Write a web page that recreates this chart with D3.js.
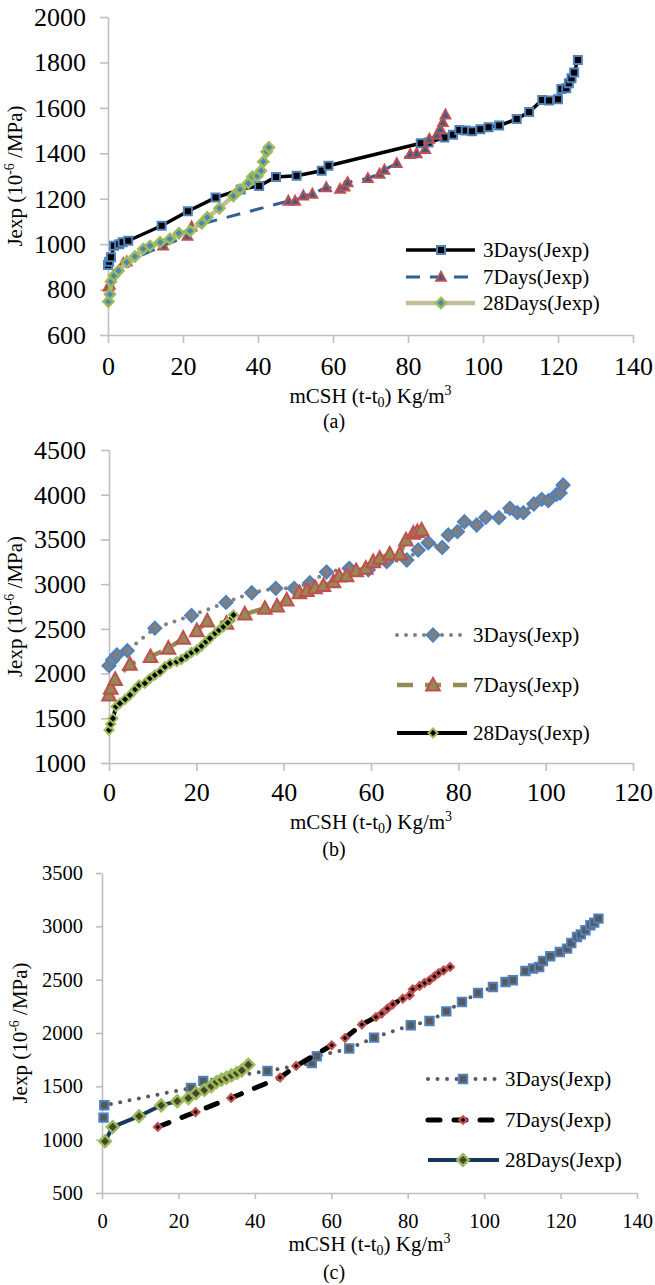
<!DOCTYPE html>
<html>
<head>
<meta charset="utf-8">
<script src="https://cdn.jsdelivr.net/npm/d3@7"></script>
<style>
  html, body { margin: 0; padding: 0; background: #fff; }
  svg { display: block; }
  text { font-family: "Liberation Serif", "Times New Roman", serif; fill: #000; }
</style>
</head>
<body>
<svg id="chart" width="655" height="1285"></svg>
<script>
// ---- series labels ----
const seriesNames = ["3Days(Jexp)", "7Days(Jexp)", "28Days(Jexp)"];
const captions = ["(a)", "(b)", "(c)"];

// ---- panel (a) ----
const aXTicks = [0, 20, 40, 60, 80, 100, 120, 140];
const aYTicks = [600, 800, 1000, 1200, 1400, 1600, 1800, 2000];
const a3x = [0, 0.3, 0.8, 1.6, 3.0, 3.9, 5.4, 14.3, 21.3, 28.7, 35.4, 40.3, 44.8, 50.3, 57.0, 58.8, 83.4, 85.5, 89.7, 92.0, 93.7, 95.4, 97.1, 99.3, 101.5, 104.3, 109.0, 112.3, 115.8, 117.6, 120.0, 120.9, 122.2, 122.9, 123.6, 124.3, 125.3];
const a3y = [908, 923, 942, 993, 1000, 1008, 1015, 1081, 1145, 1205, 1241, 1256, 1296, 1301, 1323, 1345, 1444, 1447, 1470, 1482, 1503, 1500, 1497, 1506, 1515, 1522, 1551, 1582, 1635, 1632, 1638, 1683, 1686, 1708, 1730, 1756, 1811];
const a7x = [0.1, 0.5, 4.1, 5.0, 14.7, 21.2, 22.3, 48.1, 49.9, 52.1, 54.5, 58.2, 61.9, 63.1, 63.9, 69.3, 72.4, 73.7, 77.0, 80.6, 82.3, 84.6, 85.7, 87.7, 88.6, 89.3, 90.0];
const a7y = [813, 820, 916, 923, 993, 1036, 1077, 1190, 1190, 1213, 1221, 1250, 1243, 1253, 1272, 1290, 1309, 1327, 1356, 1396, 1400, 1418, 1463, 1481, 1507, 1537, 1570];
const a28x = [0.1, 0.5, 0.8, 1.6, 2.8, 5.0, 7.2, 9.4, 11.2, 13.9, 16.5, 18.9, 21.9, 25.0, 26.5, 29.7, 33.4, 35.2, 37.4, 38.5, 39.8, 40.8, 41.4, 42.3, 42.9];
const a28y = [747, 779, 835, 861, 883, 920, 946, 979, 992, 1008, 1023, 1048, 1058, 1092, 1118, 1158, 1212, 1241, 1268, 1297, 1300, 1323, 1363, 1407, 1426];

// ---- panel (b) ----
const bXTicks = [0, 20, 40, 60, 80, 100, 120];
const bYTicks = [1000, 1500, 2000, 2500, 3000, 3500, 4000, 4500];
const b3x = [0, 0.8, 1.8, 4.2, 10.5, 18.9, 26.8, 32.7, 38.2, 42.4, 46.0, 49.8, 55.0, 59.4, 63.6, 68.2, 70.8, 73.1, 76.3, 77.7, 79.8, 81.4, 84.2, 86.3, 89.3, 91.8, 93.5, 94.9, 97.3, 99.1, 100.6, 102.5, 103.3, 104.0];
const b3y = [2088, 2152, 2208, 2256, 2508, 2649, 2796, 2904, 2953, 2953, 3016, 3135, 3177, 3160, 3251, 3270, 3382, 3463, 3411, 3550, 3587, 3698, 3661, 3747, 3743, 3848, 3799, 3799, 3896, 3948, 3933, 4004, 4020, 4109];
const b7x = [0, 0.4, 1.4, 4.8, 9.5, 13.6, 17.0, 20.1, 22.5, 26.9, 31.1, 35.7, 38.5, 40.7, 43.6, 45.3, 47.2, 49.1, 51.4, 52.7, 54.4, 56.6, 58.8, 60.5, 62.0, 64.3, 66.6, 68.0, 69.7, 70.6, 71.6];
const b7y = [1760, 1835, 1934, 2103, 2189, 2282, 2394, 2479, 2588, 2562, 2666, 2729, 2755, 2822, 2904, 2927, 2960, 2983, 3027, 3091, 3094, 3150, 3177, 3251, 3289, 3337, 3337, 3494, 3568, 3587, 3605];
const b28x = [0, 0.4, 0.9, 1.6, 2.5, 3.7, 4.8, 6.0, 6.9, 8.2, 9.4, 10.5, 11.7, 12.8, 14.0, 15.5, 16.6, 17.8, 18.9, 20.1, 21.2, 22.2, 23.1, 24.3, 25.2, 26.2, 27.2, 28.5];
const b28y = [1369, 1436, 1499, 1630, 1667, 1712, 1760, 1824, 1872, 1891, 1947, 1984, 2021, 2077, 2112, 2133, 2157, 2196, 2236, 2264, 2308, 2356, 2394, 2450, 2487, 2524, 2569, 2655];

// ---- panel (c) ----
const cXTicks = [0, 20, 40, 60, 80, 100, 120, 140];
const cYTicks = [500, 1000, 1500, 2000, 2500, 3000, 3500];
const c3x = [0.4, 0.6, 23.3, 26.5, 43.3, 54.9, 56.2, 64.7, 71.2, 80.8, 85.7, 90.1, 94.2, 98.4, 102.3, 105.6, 107.5, 110.8, 112.8, 114.4, 115.4, 117.3, 119.8, 121.7, 122.8, 124.3, 125.3, 126.5, 127.8, 128.8, 129.9];
const c3y = [1207, 1322, 1484, 1550, 1644, 1719, 1782, 1854, 1957, 2072, 2112, 2203, 2291, 2375, 2431, 2478, 2494, 2581, 2604, 2619, 2675, 2719, 2759, 2791, 2844, 2900, 2925, 2963, 3010, 3035, 3072];
const c7x = [14.6, 24.5, 33.8, 46.6, 50.8, 60.1, 63.6, 68.0, 71.7, 73.2, 74.7, 76.1, 78.7, 80.5, 81.3, 83.1, 84.4, 85.7, 87.0, 88.1, 89.4, 91.1];
const c7y = [1119, 1259, 1391, 1582, 1691, 1885, 1953, 2079, 2150, 2182, 2229, 2269, 2322, 2353, 2410, 2441, 2469, 2494, 2531, 2562, 2588, 2619];
const c28x = [0.8, 2.8, 9.7, 15.5, 19.7, 22.6, 24.6, 26.8, 28.6, 30.0, 31.3, 32.6, 33.9, 35.3, 36.6, 38.3];
const c28y = [985, 1119, 1220, 1322, 1361, 1390, 1435, 1466, 1502, 1541, 1563, 1582, 1603, 1625, 1650, 1702];

const zip = (xs, ys) => xs.map((v, i) => [v, ys[i]]);

// marker outlines, r = half width
function markerPath(shape, r) {
  if (shape === "square") return `M${-r},${-r}H${r}V${r}H${-r}Z`;
  if (shape === "triangle") return `M0,${-r * 1.05}L${r},${r * 0.8}L${-r},${r * 0.8}Z`;
  return `M0,${-r}L${r},0L0,${r}L${-r},0Z`; // diamond
}

const FONT = '"Liberation Serif", "Times New Roman", serif';
const AXIS_GRAY = "#bfbfbf";

const panels = [
  {
    left: 108, right: 633, top: 17, bottom: 335,
    xDomain: [0, 140], yDomain: [600, 2000], xTicks: aXTicks, yTicks: aYTicks,
    tickFont: 26, yTickSize: 8, yTickPad: 14, xTickSize: 8, xTickPad: 14,
    xTitleY: 403, captionY: 428, yTitleX: 22,
    legend: { x0: 406, x1: 475, mx: 441, tx: 483, rows: [250, 277, 303] },
    series: [
      { data: zip(a3x, a3y), line: "#000", width: 3.5, dash: null, shape: "square", r: 4, fill: "#000", stroke: "#4f81bd", sw: 2 },
      { data: zip(a7x, a7y), line: "#2f5f98", width: 3, dash: "14,10", shape: "triangle", r: 4.8, fill: "#2f5f98", stroke: "#c0504d", sw: 2 },
      { data: zip(a28x, a28y), line: "#c4bd97", width: 4.5, dash: null, shape: "diamond", r: 5, fill: "#4f81bd", stroke: "#9bbb59", sw: 2.5 }
    ]
  },
  {
    left: 109, right: 633, top: 450, bottom: 763,
    xDomain: [0, 120], yDomain: [1000, 4500], xTicks: bXTicks, yTicks: bYTicks,
    tickFont: 26, yTickSize: 8, yTickPad: 15, xTickSize: 8, xTickPad: 12,
    xTitleY: 829, captionY: 856, yTitleX: 22,
    legend: { x0: 397, x1: 467, mx: 433, tx: 473, rows: [635, 685, 733] },
    series: [
      { data: zip(b3x, b3y), line: "#808080", width: 4, dash: "0,9", cap: "round", shape: "diamond", r: 6.5, fill: "#7f7f7f", stroke: "#4f81bd", sw: 2 },
      { data: zip(b7x, b7y), line: "#948a54", width: 4.5, dash: "16,12", shape: "triangle", r: 6.8, fill: "#948a54", stroke: "#c0504d", sw: 2 },
      { data: zip(b28x, b28y), line: "#000", width: 4, dash: null, shape: "diamond", r: 4.5, fill: "#000", stroke: "#9bbb59", sw: 2 }
    ]
  },
  {
    left: 102, right: 637, top: 873, bottom: 1193,
    xDomain: [0, 140], yDomain: [500, 3500], xTicks: cXTicks, yTicks: cYTicks,
    tickFont: 20.5, yTickSize: 6, yTickPad: 13, xTickSize: 6, xTickPad: 14,
    xTitleY: 1251, captionY: 1279, yTitleX: 27,
    legend: { x0: 428, x1: 499, mx: 463, tx: 505, rows: [1079, 1120, 1160] },
    series: [
      { data: zip(c3x, c3y), line: "#595959", width: 4, dash: "0,9.5", cap: "round", shape: "square", r: 4.2, fill: "#595959", stroke: "#4f81bd", sw: 2 },
      { data: zip(c7x, c7y), line: "#000", width: 5, dash: "12,14", cap: "round", shape: "diamond", r: 3.8, fill: "#000", stroke: "#c0504d", sw: 2.2 },
      { data: zip(c28x, c28y), line: "#17375e", width: 4, dash: null, shape: "diamond", r: 5.8, fill: "#4a452a", stroke: "#9bbb59", sw: 2.5 }
    ]
  }
];

const svg = d3.select("#chart");

function styleAxis(g, fontSize) {
  g.attr("font-family", FONT).attr("font-size", fontSize);
  g.select(".domain").attr("stroke", AXIS_GRAY).attr("stroke-width", 1.6);
  g.selectAll(".tick line").attr("stroke", AXIS_GRAY).attr("stroke-width", 1.6);
  g.selectAll(".tick text").attr("fill", "#000");
}

function drawMarker(sel, s) {
  sel.append("path")
    .attr("d", markerPath(s.shape, s.r))
    .attr("fill", s.fill)
    .attr("stroke", s.stroke)
    .attr("stroke-width", s.sw)
    .attr("stroke-linejoin", "miter");
}

panels.forEach((p, pi) => {
  const x = d3.scaleLinear().domain(p.xDomain).range([p.left, p.right]);
  const y = d3.scaleLinear().domain(p.yDomain).range([p.bottom, p.top]);
  const g = svg.append("g");

  // axes
  g.append("g")
    .attr("transform", `translate(${p.left},0)`)
    .call(d3.axisLeft(y).tickValues(p.yTicks).tickFormat(d3.format("d"))
      .tickSize(p.yTickSize).tickSizeOuter(0).tickPadding(p.yTickPad))
    .call(ax => styleAxis(ax, p.tickFont));
  g.append("g")
    .attr("transform", `translate(0,${p.bottom})`)
    .call(d3.axisBottom(x).tickValues(p.xTicks).tickFormat(d3.format("d"))
      .tickSize(p.xTickSize).tickSizeOuter(0).tickPadding(p.xTickPad))
    .call(ax => styleAxis(ax, p.tickFont));

  // series: line then markers, in order
  const line = d3.line().x(d => x(d[0])).y(d => y(d[1]));
  p.series.forEach(s => {
    g.append("path")
      .attr("d", line(s.data))
      .attr("fill", "none")
      .attr("stroke", s.line)
      .attr("stroke-width", s.width)
      .attr("stroke-linejoin", "round")
      .attr("stroke-linecap", s.cap || "butt")
      .attr("stroke-dasharray", s.dash);
    g.append("g").selectAll("g")
      .data(s.data).join("g")
      .attr("transform", d => `translate(${x(d[0])},${y(d[1])})`)
      .each(function () { drawMarker(d3.select(this), s); });
  });

  // legend
  const L = p.legend;
  p.series.forEach((s, i) => {
    const ry = L.rows[i];
    g.append("line")
      .attr("x1", L.x0).attr("x2", L.x1).attr("y1", ry).attr("y2", ry)
      .attr("stroke", s.line).attr("stroke-width", s.width)
      .attr("stroke-linecap", s.cap || "butt")
      .attr("stroke-dasharray", s.dash);
    drawMarker(g.append("g").attr("transform", `translate(${L.mx},${ry})`), s);
    g.append("text")
      .attr("x", L.tx).attr("y", ry).attr("dy", "0.34em")
      .attr("font-size", 21)
      .text(seriesNames[i]);
  });

  // x axis title: mCSH (t-t0) Kg/m3
  const cx = (p.left + p.right) / 2;
  const xt = g.append("text")
    .attr("x", cx).attr("y", p.xTitleY)
    .attr("text-anchor", "middle").attr("font-size", 21);
  xt.append("tspan").text("mCSH (t-t");
  xt.append("tspan").attr("font-size", 14).attr("dy", 4).text("0");
  xt.append("tspan").attr("dy", -4).text(") Kg/m");
  xt.append("tspan").attr("font-size", 14).attr("dy", -8).text("3");

  // y axis title: Jexp (10-6 /MPa)
  const cy = (p.top + p.bottom) / 2;
  const yt = g.append("text")
    .attr("transform", `translate(${p.yTitleX},${cy}) rotate(-90)`)
    .attr("text-anchor", "middle").attr("font-size", 21);
  yt.append("tspan").text("Jexp (10");
  yt.append("tspan").attr("font-size", 14).attr("dy", -8).text("-6");
  yt.append("tspan").attr("dy", 8).text(" /MPa)");

  // caption
  g.append("text")
    .attr("x", 334).attr("y", p.captionY)
    .attr("text-anchor", "middle").attr("font-size", 20)
    .text(captions[pi]);
});
</script>
</body>
</html>
